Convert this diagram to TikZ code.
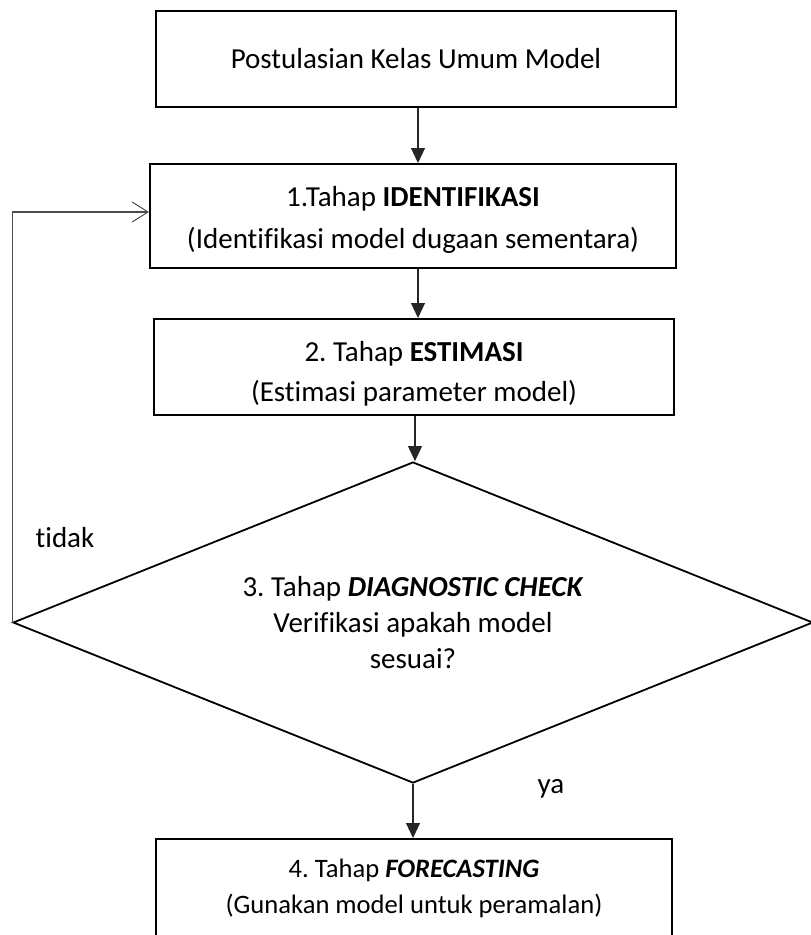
\documentclass[tikz,border=0pt]{standalone}
\usepackage{fontspec}
\setmainfont{Carlito}[Ligatures=NoCommon]
\frenchspacing
\usetikzlibrary{shapes.geometric,arrows.meta}
\begin{document}
\begin{tikzpicture}[x=1pt,y=-1pt,
  box/.style={draw=black, line width=2pt, rectangle, inner sep=0pt, align=center,
    font=\fontsize{29pt}{42pt}\selectfont},
  arr/.style={draw=black!85, line width=1.1pt, -{Triangle[length=15pt,width=14pt]}},
  fbarr/.style={draw=black!70, line width=1.1pt, -{Straight Barb[length=16pt,width=20pt,line width=1pt]}},
  lbl/.style={font=\fontsize{29pt}{35pt}\selectfont, inner sep=0pt}
]
\useasboundingbox (0,0) rectangle (811,935);
\node[box, minimum width=520pt, minimum height=96pt] (b1) at (416,59) {Postulasian Kelas Umum Model};
\node[box, minimum width=526pt, minimum height=104pt] (b2) at (413,216) {\rule{0pt}{28pt}1.Tahap \textbf{IDENTIFIKASI}\\(Identifikasi model dugaan sementara)};
\node[box, minimum width=520pt, minimum height=96pt, font=\fontsize{29pt}{40pt}\selectfont] (b3) at (414,367) {\rule{0pt}{34pt}2. Tahap \textbf{ESTIMASI}\\(Estimasi parameter model)};
\node[diamond, aspect=2.49, draw=black, line width=1.8pt, minimum width=800pt, minimum height=321pt, inner sep=0pt, align=center,
  font=\fontsize{29pt}{36pt}\selectfont] (d) at (413,622.5) {3. Tahap \textbf{\textit{DIAGNOSTIC CHECK}}\\Verifikasi apakah model\\sesuai?};
\node[box, minimum width=516pt, minimum height=98pt, font=\fontsize{26.6pt}{36pt}\selectfont] (b4) at (414,888) {4. Tahap \textbf{\textit{FORECASTING}}\\(Gunakan model untuk peramalan)};
\draw[arr] ([xshift=2pt]b1.south) -- ([xshift=2pt]b1.south |- b2.north);
\draw[arr] ([xshift=5pt]b2.south) -- ([xshift=5pt]b2.south |- b3.north);
\draw[arr] ([xshift=1pt]b3.south) -- ([xshift=1pt]b3.south |- d.north);
\draw[arr] (d.south) -- (d.south |- b4.north);
\coordinate (fb) at (13,212);
\draw[fbarr] (d.west) -- (d.west |- fb) -- (b2.west |- fb);
\node[lbl, anchor=base] (tidak) at (65,547) {tidak};
\node[lbl, anchor=base] (ya) at (551,793) {ya};
\end{tikzpicture}
\end{document}
